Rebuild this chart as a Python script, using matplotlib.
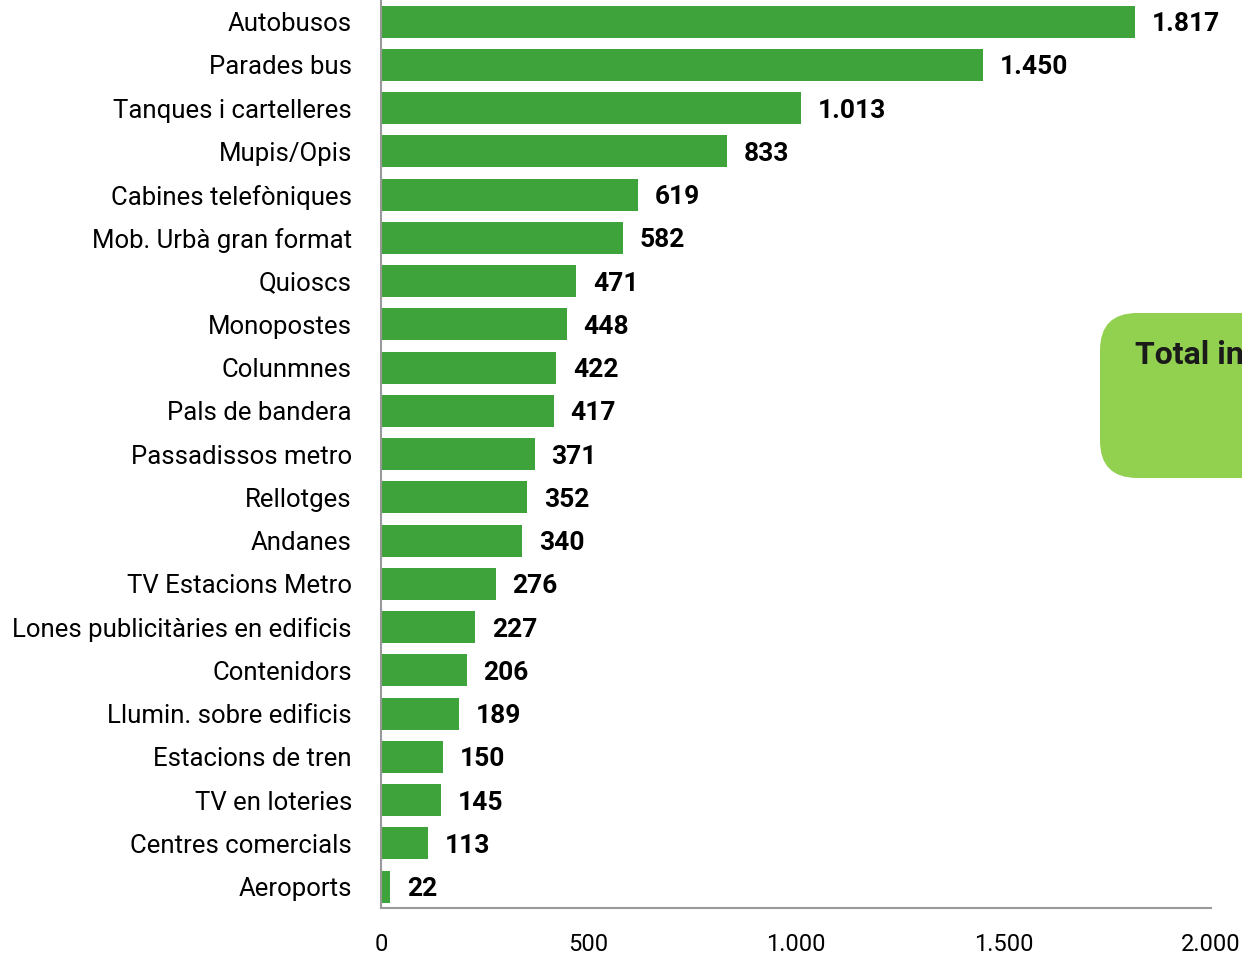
import matplotlib.pyplot as plt
from matplotlib.patches import FancyBboxPatch
from matplotlib.ticker import FuncFormatter

categories = ["Autobusos", "Parades bus", "Tanques i cartelleres", "Mupis/Opis",
              "Cabines telefòniques", "Mob. Urbà gran format", "Quioscs", "Monopostes",
              "Colunmnes", "Pals de bandera", "Passadissos metro", "Rellotges",
              "Andanes", "TV Estacions Metro", "Lones publicitàries en edificis",
              "Contenidors", "Llumin. sobre edificis", "Estacions de tren",
              "TV en loteries", "Centres comercials", "Aeroports"]
values = [1817, 1450, 1013, 833, 619, 582, 471, 448, 422, 417, 371, 352,
          340, 276, 227, 206, 189, 150, 145, 113, 22]
xticks = [0, 500, 1000, 1500, 2000]

plt.rcParams['font.family'] = ['Roboto', 'DejaVu Sans']


def fmt(v, pos=None):
    return "{:,}".format(int(v)).replace(",", ".")


fig = plt.figure(figsize=(12.42, 9.57), dpi=100)
ax = fig.add_axes([0.3068, 0.051, 0.6682, 0.949])

y = range(len(categories))
ax.barh(y, values, height=0.74, color="#3EA33A")
for i, v in zip(y, values):
    ax.text(v + 40, i, fmt(v), va="center_baseline", ha="left",
            fontsize=19, fontweight="bold")

ax.set_ylim(len(categories) - 0.5, -0.5)
ax.set_xlim(0, 2000)
ax.set_yticks(list(y))
ax.set_yticklabels(categories, fontsize=18.5)
ax.set_xticks(xticks)
ax.xaxis.set_major_formatter(FuncFormatter(fmt))
ax.tick_params(axis="x", labelsize=17, length=0, pad=18)
ax.tick_params(axis="y", length=0, pad=21)
for s in ["top", "right"]:
    ax.spines[s].set_visible(False)
for s in ["left", "bottom"]:
    ax.spines[s].set_color("#999999")
    ax.spines[s].set_linewidth(1.5)

box = FancyBboxPatch((1100 / 1242, 1 - 478 / 957), 0.2, 165 / 957,
                     boxstyle="round,pad=0,rounding_size=0.03",
                     transform=fig.transFigure, facecolor="#92D050",
                     edgecolor="none", mutation_aspect=1242 / 957)
fig.patches.append(box)
fig.text(1135 / 1242, 1 - 355 / 957, "Total in", fontsize=23, fontweight="bold",
         color="#1a1a1a", va="center", ha="left")

fig.savefig("out.png", dpi=100)
